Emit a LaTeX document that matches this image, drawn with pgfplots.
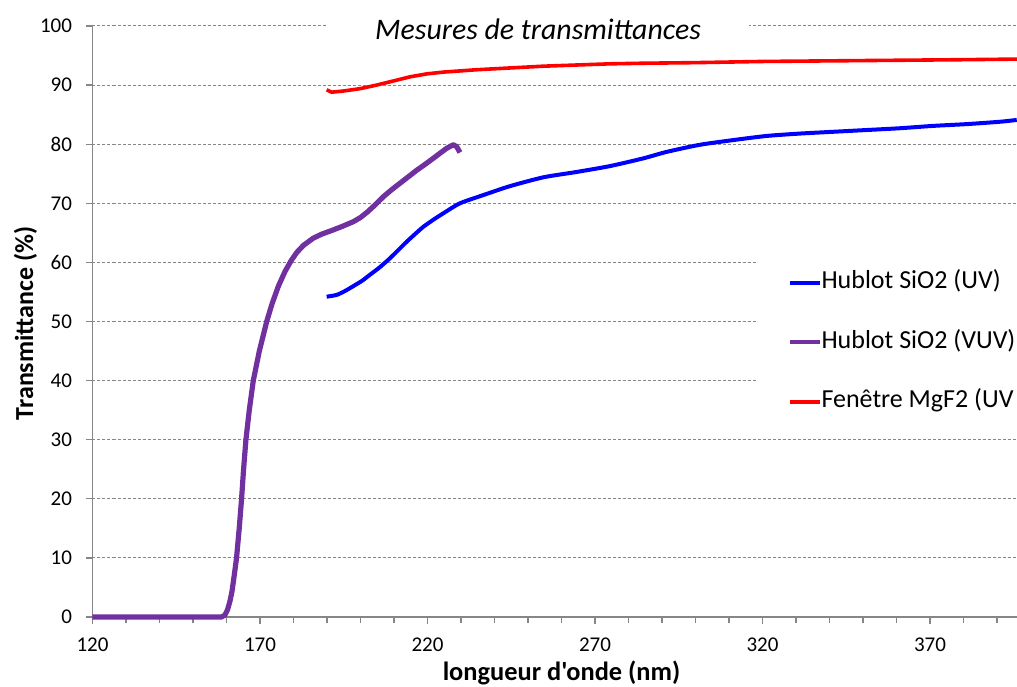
\documentclass[border=0pt]{standalone}
\usepackage{fontspec}
\setmainfont{Carlito}[Ligatures=TeXOff]
\usepackage{pgfplots}
\pgfplotsset{compat=1.18}
\definecolor{vuv}{HTML}{7030A0}
\definecolor{axgray}{HTML}{868686}
\begin{document}
\begin{tikzpicture}
\begin{axis}[
  name=ax,
  at={(0pt,0pt)}, anchor=south west,
  scale only axis, width=469pt, height=295.5pt,
  xmin=120, xmax=400, ymin=0, ymax=100,
  clip=false,
  axis x line*=bottom, axis y line*=left,
  axis line style={axgray, line width=0.6pt},
  xtick={120,170,...,370},
  minor xtick={130,140,150,160,180,190,200,210,230,240,250,260,280,290,300,310,330,340,350,360,380,390},
  ytick={0,10,...,100},
  tick align=outside,
  major tick length=3.4pt, minor tick length=3pt,
  every tick/.style={axgray, line width=0.6pt},
  ymajorgrids,
  major grid style={axgray, dash pattern=on 1.5pt off 1pt, line width=0.5pt},
  /pgf/number format/assume math mode=true,
  ticklabel style={font=\fontsize{10.5}{12}\selectfont},
  xticklabel style={yshift=-3.6pt},
  yticklabel style={xshift=-3.35pt},
  xlabel={longueur d'onde (nm)},
  ylabel={Transmittance (\%)},
  xlabel style={font=\fontsize{13.2}{15}\selectfont\bfseries, at={(axis description cs:0.5,-0.1066)}, anchor=base},
  ylabel style={font=\fontsize{13}{15}\selectfont\bfseries, at={(axis description cs:-0.0634,0.497)}, anchor=base},
  legend style={at={(axis cs:318.4,46.5)}, anchor=west, fill=white, draw=none,
    font=\fontsize{13}{15}\selectfont, inner xsep=15pt, inner ysep=6pt,
    row sep=17.75pt, column sep=0pt,
    nodes={inner sep=0pt, text height=9pt, text depth=3pt}},
  legend cell align=left,
  legend image code/.code={\draw[#1, line width=2pt] (0pt,0pt) -- (15pt,0pt);},
]
\addplot[blue, line width=2pt, line join=round, smooth, tension=0.4] coordinates {
(189.9,54.2) (192.9,54.5) (195.5,55.2) (197.9,56.0) (200.5,56.9) (202.8,57.9)
(205.8,59.2) (208.8,60.7) (211.3,62.1) (213.8,63.5) (216.3,64.8) (218.7,66.0)
(221.7,67.2) (224.7,68.3) (229.7,70.0) (236.7,71.4) (244.6,72.9) (254.6,74.4)
(264.5,75.3) (274.5,76.3) (284.4,77.6) (291.4,78.7) (301.3,79.9) (311.3,80.7)
(321.3,81.4) (331.2,81.8) (341.1,82.1) (351.1,82.4) (361.0,82.7) (371.0,83.1)
(381.0,83.4) (390.9,83.8) (395.9,84.1)
};
\addlegendentry{Hublot SiO2 (UV)}
\addplot[vuv, line width=2.6pt, line join=round] coordinates {
(120,0) (158.5,0) (159.5,0.3) (160.3,1.2) (161,2.6) (161.6,4.2) (162.3,7) (163,10)
(163.8,15) (164.5,20) (165.1,25) (165.8,30) (166.8,35) (168,40) (169.8,45) (172,50)
(173.6,53) (175.5,56) (177.5,58.5) (179.3,60.3) (181,61.7) (183,62.9) (185.9,64.1)
(188.5,64.8) (191.9,65.5) (195,66.2) (197.9,66.9) (200,67.6) (202,68.5) (204.5,69.8)
(206.8,71.1) (209.3,72.3) (211.8,73.4) (214.3,74.5) (216.8,75.6) (219.3,76.6)
(221.7,77.6) (223.8,78.5) (225.7,79.3) (227.7,79.9) (228.7,79.6) (229.7,78.6)
};
\addlegendentry{Hublot SiO2 (VUV)}
\addplot[red, line width=1.8pt, line join=round] coordinates {
(189.9,89.2) (191.4,88.8) (194.9,89.0) (199.9,89.4) (204.8,90.0) (209.8,90.7)
(214.8,91.4) (219.8,91.9) (224.7,92.2) (234.7,92.6) (244.6,92.9) (254.6,93.2)
(264.5,93.4) (274.5,93.6) (284.4,93.7) (300,93.8) (320,94.0) (340,94.1)
(360,94.2) (380,94.3) (396,94.4)
};
\addlegendentry{Fenêtre MgF2 (UV}
\node[fill=white, inner xsep=24.25pt, inner ysep=1pt, font=\fontsize{14.9}{17}\selectfont\itshape]
  at (axis cs:253,99.4) {Mesures de transmittances};
\end{axis}
\pgfresetboundingbox
\useasboundingbox ([xshift=-46.25pt,yshift=-34.5pt]ax.south west) rectangle ([xshift=462.25pt,yshift=308.5pt]ax.south west);
\end{tikzpicture}
\end{document}
